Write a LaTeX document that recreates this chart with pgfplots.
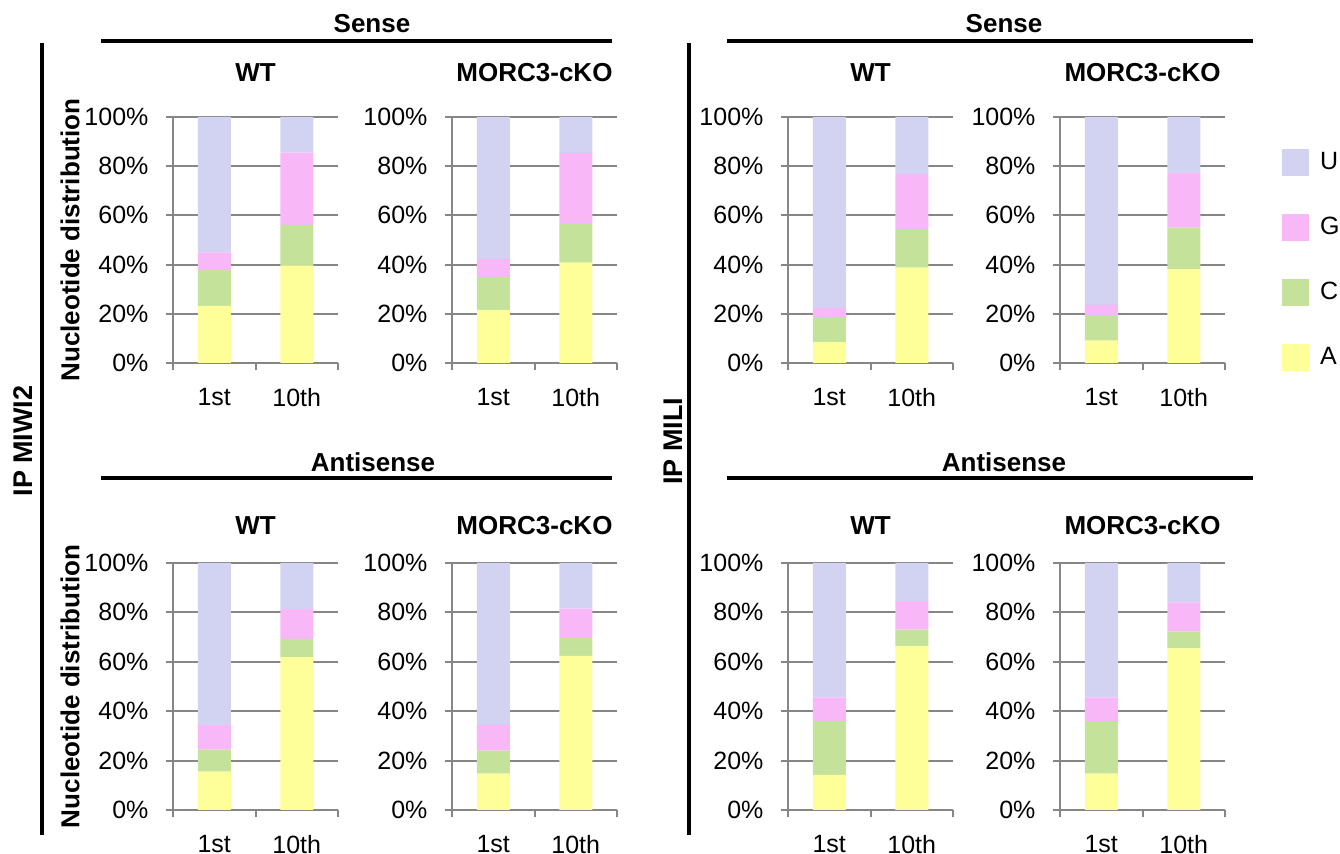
\documentclass[border=0pt]{standalone}
\usepackage{fontspec}
\setmainfont{Liberation Sans}
\usepackage{pgfplots}
\usepackage{pgfplotstable}
\pgfplotsset{compat=1.18}
\definecolor{cU}{RGB}{210,210,242}
\definecolor{cG}{RGB}{248,184,248}
\definecolor{cC}{RGB}{196,226,154}
\definecolor{cA}{RGB}{255,255,153}
\definecolor{gridgray}{RGB}{134,134,134}

% columns: x A C G U
\pgfplotstableread{
x A C G U
0 23.2 14.6 7.2 55.0
1 39.7 16.4 29.4 14.5
}\TLwt
\pgfplotstableread{
x A C G U
0 21.6 13.4 7.2 57.8
1 40.8 16.1 28.5 14.6
}\TLko
\pgfplotstableread{
x A C G U
0 8.5 10.1 3.8 77.6
1 38.8 15.7 22.4 23.1
}\TRwt
\pgfplotstableread{
x A C G U
0 9.1 10.4 4.1 76.4
1 38.2 16.8 22.2 22.8
}\TRko
\pgfplotstableread{
x A C G U
0 15.5 8.9 10.0 65.6
1 61.9 7.4 12.0 18.7
}\BLwt
\pgfplotstableread{
x A C G U
0 14.7 9.3 10.5 65.5
1 62.4 7.3 11.8 18.5
}\BLko
\pgfplotstableread{
x A C G U
0 14.2 21.9 9.5 54.4
1 66.4 6.6 11.6 15.4
}\BRwt
\pgfplotstableread{
x A C G U
0 14.7 21.3 9.6 54.4
1 65.4 6.8 11.9 15.9
}\BRko

\pgfplotsset{
  every axis title shift=0pt,
  panel/.style={
    scale only axis, width=82.5pt, height=123pt,
    ybar stacked, bar width=0.4,
    xmin=-0.5, xmax=1.5, ymin=0, ymax=100,
    axis x line*=bottom, axis y line*=left,
    axis line style={gridgray, line width=1pt},
    xtick={-0.5,0.5,1.5}, x tick label as interval,
    xticklabels={1st,10th},
    ytick={0,20,40,60,80,100},
    yticklabels={0\%,20\%,40\%,60\%,80\%,100\%},
    ymajorgrids, grid style={gridgray, line width=1pt},
    tick align=outside, major tick length=3.75pt,
    tick style={gridgray, line width=1pt},
    tick label style={font=\fontsize{12.5}{15}\selectfont, text=black},
    xticklabel style={yshift=-5.5pt},
    yticklabel style={xshift=-5pt},
    title style={font=\bfseries\fontsize{13}{15}\selectfont, at={(0.5,1.1789)}, anchor=center},
    ylabel style={font=\bfseries\fontsize{13}{15}\selectfont, at={(axis description cs:-0.6242,0.5)}, anchor=center},
    every axis plot/.append style={draw=none},
  },
  bottompanel/.style={panel, height=123.5pt, title style={at={(0.5,1.1498)}}},
}

\newcommand{\bars}[1]{%
  \addplot[fill=cA] table[x=x,y=A]{#1};
  \addplot[fill=cC] table[x=x,y=C]{#1};
  \addplot[fill=cG] table[x=x,y=G]{#1};
  \addplot[fill=cU] table[x=x,y=U]{#1};
}

\begin{document}
\begin{tikzpicture}
\useasboundingbox (0,0) rectangle (670pt,427pt);

% top row
\begin{axis}[panel, at={(86.5pt,245.5pt)}, anchor=south west, title={WT}, ylabel={Nucleotide distribution}]
\bars{\TLwt}
\end{axis}
\begin{axis}[panel, at={(226pt,245.5pt)}, anchor=south west, title={MORC3-cKO}]
\bars{\TLko}
\end{axis}
\begin{axis}[panel, at={(394pt,245.5pt)}, anchor=south west, title={WT}]
\bars{\TRwt}
\end{axis}
\begin{axis}[panel, at={(530pt,245.5pt)}, anchor=south west, title={MORC3-cKO},
  reverse legend,
  legend style={draw=none, fill=none, at={(axis description cs:1.3455,0.869)}, anchor=north west,
    inner sep=0pt, outer sep=0pt, row sep=19pt, column sep=5.5pt,
    font=\fontsize{12.5}{15}\selectfont, nodes={inner sep=0pt, outer sep=0pt}},
  legend cell align=left,
  legend image code/.code={\fill[#1] (0pt,-6.75pt) rectangle (13.5pt,6.75pt);}]
\bars{\TRko}
\legend{A,C,G,U}
\end{axis}

% bottom row
\begin{axis}[bottompanel, at={(86.5pt,22pt)}, anchor=south west, title={WT}, ylabel={Nucleotide distribution}]
\bars{\BLwt}
\end{axis}
\begin{axis}[bottompanel, at={(226pt,22pt)}, anchor=south west, title={MORC3-cKO}]
\bars{\BLko}
\end{axis}
\begin{axis}[bottompanel, at={(394pt,22pt)}, anchor=south west, title={WT}]
\bars{\BRwt}
\end{axis}
\begin{axis}[bottompanel, at={(530pt,22pt)}, anchor=south west, title={MORC3-cKO}]
\bars{\BRko}
\end{axis}

% group decorations
\draw[line width=2pt] (21pt,405.5pt) -- (21pt,9.5pt);
\draw[line width=2pt] (344.5pt,405.5pt) -- (344.5pt,9.5pt);
\node[rotate=90, font=\bfseries\fontsize{13.5}{15}\selectfont] at (11.5pt,206.5pt) {IP MIWI2};
\node[rotate=90, font=\bfseries\fontsize{13.5}{15}\selectfont] at (336.5pt,206.3pt) {IP MILI};

\draw[line width=2pt] (50.5pt,406.5pt) -- (306pt,406.5pt);
\draw[line width=2pt] (363.5pt,406.5pt) -- (626.5pt,406.5pt);
\draw[line width=2pt] (50.5pt,188.2pt) -- (306pt,188.2pt);
\draw[line width=2pt] (363.5pt,188.2pt) -- (626.5pt,188.2pt);
\node[font=\bfseries\fontsize{13}{15}\selectfont] at (186pt,415pt) {Sense};
\node[font=\bfseries\fontsize{13}{15}\selectfont] at (502pt,415pt) {Sense};
\node[font=\bfseries\fontsize{13}{15}\selectfont] at (186.5pt,196pt) {Antisense};
\node[font=\bfseries\fontsize{13}{15}\selectfont] at (502pt,196pt) {Antisense};
\end{tikzpicture}
\end{document}
